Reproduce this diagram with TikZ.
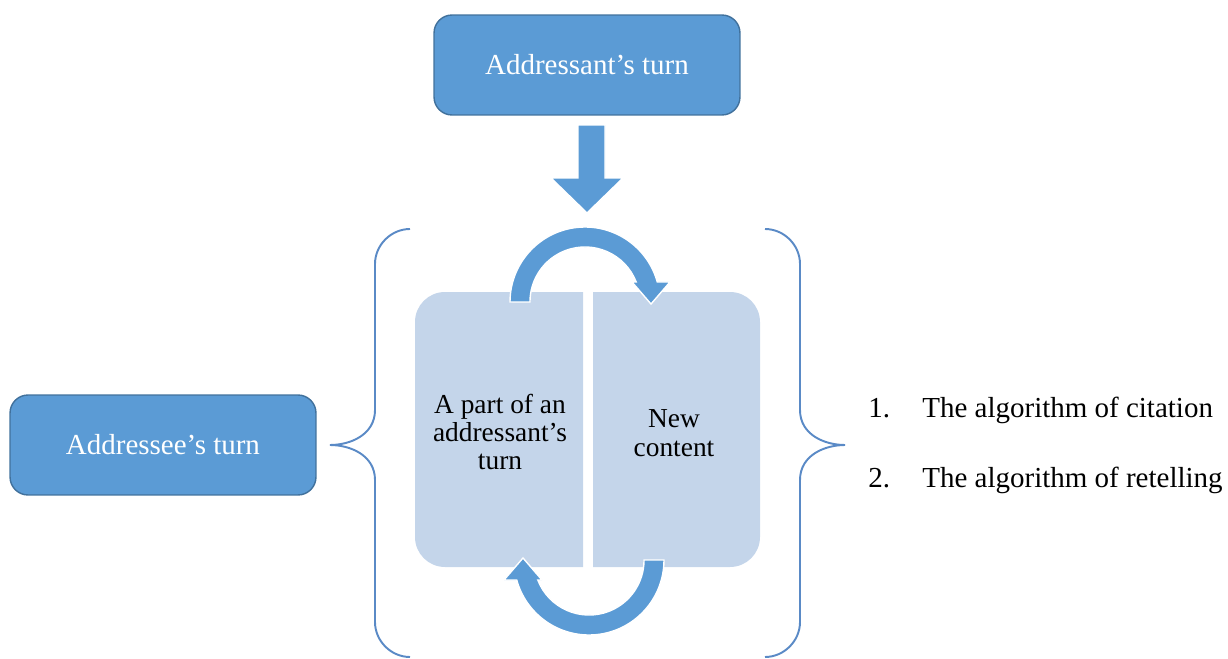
\documentclass[tikz,border=0pt]{standalone}
\usepackage{fontspec}
\setmainfont{Liberation Serif}
\definecolor{blueA}{HTML}{5B9BD5}
\definecolor{blueB}{HTML}{41719C}
\definecolor{lightA}{HTML}{C4D5EA}
\definecolor{braceC}{HTML}{5A8AC6}
\begin{document}
\begin{tikzpicture}[x=0.02cm,y=-0.02cm,
  turnbox/.style={draw=blueB,fill=blueA,line width=0.8pt,rounded corners=0.36cm,
    minimum width=6.12cm,minimum height=2cm,text=white,
    font=\fontsize{16.5}{19}\selectfont},
  innertext/.style={align=center,font=\fontsize{15.6}{16.2}\selectfont},
  listtext/.style={anchor=base west,inner sep=0pt,font=\fontsize{16.5}{19}\selectfont},
  bracestyle/.style={draw=braceC,line width=1.1pt},
  bigarrow/.style={fill=blueA,draw=white,line width=0.8pt}]
\useasboundingbox (0,0) rectangle (1228,659);

% top and left boxes
\node[turnbox] (top) at (587,65) {Addressant’s turn};
\node[turnbox] (left) at (163,445) {Addressee’s turn};

% down block arrow
\path[bigarrow] (578,125) -- (605,125) -- (605,178) -- (623,178) -- (587,213)
  -- (551,178) -- (578,178) -- cycle;

% inner boxes
\fill[lightA,rounded corners=0.6cm] (583,292) -- (415,292) -- (415,567) -- (583,567);
\fill[lightA] (560,292) rectangle (583,567);
\fill[lightA,rounded corners=0.6cm] (593,292) -- (760,292) -- (760,567) -- (593,567);
\fill[lightA] (593,292) rectangle (616,567);
\node[innertext] (part) at (500,432) {A part of an\\addressant’s\\turn};
\node[innertext] (new) at (674,433) {New\\content};

% curved arrows
\begin{scope}[shift={(585,302)},x=0.02cm,y=0.02cm]
  \path[bigarrow] (-75,0) arc[start angle=180,end angle=15.5,radius=75]
    -- (85,20) -- (66,-2) -- (47,20) -- (51.2,20)
    arc[start angle=21.3,end angle=180,radius=55] -- cycle;
\end{scope}
\begin{scope}[shift={(589,560)},x=0.02cm,y=0.02cm,rotate=180]
  \path[bigarrow] (-75,0) arc[start angle=180,end angle=15.5,radius=75]
    -- (85,20) -- (66,-2) -- (47,20) -- (51.2,20)
    arc[start angle=21.3,end angle=180,radius=55] -- cycle;
\end{scope}

% braces
\draw[bracestyle] (410,229) .. controls (391,229) and (375,245) .. (375,264)
  -- (375,410) .. controls (375,435) and (350,445) .. (330,445)
  .. controls (350,445) and (375,455) .. (375,480)
  -- (375,622) .. controls (375,641) and (391,657) .. (410,657);
\draw[bracestyle] (765,229) .. controls (784,229) and (800,245) .. (800,264)
  -- (800,410) .. controls (800,435) and (825,445) .. (845,445)
  .. controls (825,445) and (800,455) .. (800,480)
  -- (800,622) .. controls (800,641) and (784,657) .. (765,657);

% list
\node[listtext] (n1) at (868,417) {1.};
\node[listtext] (l1) at (922,417) {The algorithm of citation};
\node[listtext] (n2) at (868,487) {2.};
\node[listtext] (l2) at (922,487) {The algorithm of retelling};
\end{tikzpicture}
\end{document}
